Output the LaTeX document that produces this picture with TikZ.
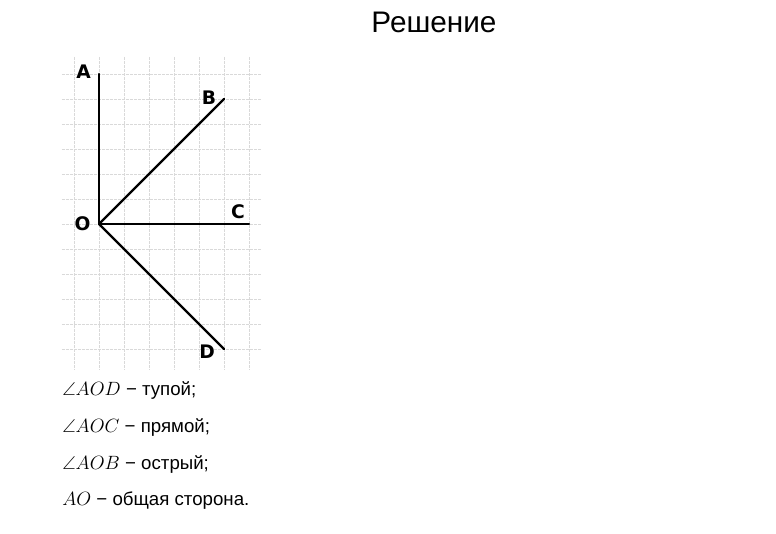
\documentclass[tikz,border=0pt]{standalone}
\usepackage{fontspec}
\setmainfont{Liberation Sans}
\newfontfamily\bukvafont{DejaVu Sans}
\usepackage{amsfonts, amssymb}
\usepackage{mathtools}

\tikzset{
    setka/.style={draw=gray!30, line width=0.7pt, dash pattern=on 2pt off 1pt},
    luch/.style={line width=1.8pt, line cap=round},
    bukva/.style={font=\bukvafont\bfseries\fontsize{14}{15}\selectfont, inner sep=0pt},
    stroka/.style={anchor=base west, inner sep=0pt, font=\fontsize{14}{16}\selectfont}
}

\begin{document}
\begin{tikzpicture}[x=18.75pt, y=18.75pt]
        \useasboundingbox (-3.96,-12.4) rectangle (27.08,8.96);

        % Заголовок
        \node[anchor=base, font=\fontsize{22.3}{25}\selectfont] (zag) at (13.4,7.64) {Решение};

        % Клетки (пунктир)
        \foreach \x in {-1,...,6}
            \draw[setka] (\x,6.68) -- (\x,-5.84);
        \foreach \y in {-5,...,6}
            \draw[setka] (-1.48,\y) -- (6.52,\y);

        % Точки
        \coordinate (O) at (0,0);
        \coordinate (A) at (0,6);
        \coordinate (B) at (5,5);
        \coordinate (C) at (6,0);
        \coordinate (D) at (5,-5);

        % Лучи
        \draw[luch] (O) -- (A);
        \draw[luch] (O) -- (B);
        \draw[luch] (O) -- (C);
        \draw[luch] (O) -- (D);

        % Подписи точек
        \node[bukva] (nA) at (-0.62,6.08) {A};
        \node[bukva] (nB) at (4.4,5.04) {B};
        \node[bukva] (nC) at (5.56,0.48) {C};
        \node[bukva] (nO) at (-0.66,0) {O};
        \node[bukva] (nD) at (4.32,-5.12) {D};

        % Ответ
        \node[stroka] (s1) at (-1.48,-6.88) {$\angle AOD$ − тупой;};
        \node[stroka] (s2) at (-1.48,-8.36) {$\angle AOC$ − прямой;};
        \node[stroka] (s3) at (-1.48,-9.84) {$\angle AOB$ − острый;};
        \node[stroka] (s4) at (-1.48,-11.28) {$AO$ − общая сторона.};
    \end{tikzpicture}
\end{document}
